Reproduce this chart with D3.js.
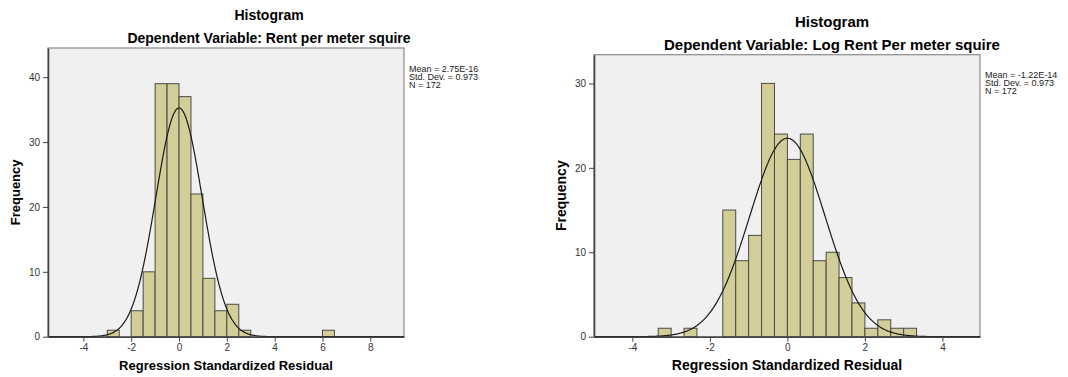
<!DOCTYPE html>
<html>
<head>
<meta charset="utf-8">
<script src="https://cdn.jsdelivr.net/npm/d3@7"></script>
<style>
  body { margin: 0; background: #fff; }
  svg { font-family: "Liberation Sans", Arial, sans-serif; }
</style>
</head>
<body>
<script>
// chart 1: Rent per meter squire, bins of 0.5
const bins1 = [-3, -2.5, -2, -1.5, -1, -0.5, 0, 0.5, 1, 1.5, 2, 2.5, 6];
const counts1 = [1, 0, 4, 10, 39, 39, 37, 22, 9, 4, 5, 1, 1];
const width1 = 0.5;
const xTicks1 = [-4, -2, 0, 2, 4, 6, 8];
const yTicks1 = [0, 10, 20, 30, 40];
const stats1 = ["Mean = 2.75E-16", "Std. Dev. = 0.973", "N = 172"];

// chart 2: Log Rent Per meter squire, bins of 1/3
const bins2 = [-10, -9, -8, -7, -6, -5, -4, -3, -2, -1, 0, 1, 2, 3, 4, 5, 6, 7, 8, 9].map(k => k / 3);
const counts2 = [1, 0, 1, 0, 0, 15, 9, 12, 30, 24, 21, 24, 9, 10, 7, 4, 1, 2, 1, 1];
const width2 = 1 / 3;
const xTicks2 = [-4, -2, 0, 2, 4];
const yTicks2 = [0, 10, 20, 30];
const stats2 = ["Mean = -1.22E-14", "Std. Dev. = 0.973", "N = 172"];

const svg = d3.select('body').append('svg')
    .attr('width', 1068)
    .attr('height', 377);

function histogram(cfg) {
    let g = svg.append('g');
    let x = d3.scaleLinear().domain(cfg.xDomain).range([cfg.left, cfg.right]);
    let y = d3.scaleLinear().domain(cfg.yDomain).range([cfg.bottom, cfg.top]);

    // plot background + frame
    g.append('rect')
        .attr('x', cfg.left).attr('y', cfg.top)
        .attr('width', cfg.right - cfg.left).attr('height', cfg.bottom - cfg.top)
        .attr('fill', '#f0f0f0')
        .attr('stroke', '#8a8a8a')
        .attr('stroke-width', 1.2);

    // bars
    g.append('g').selectAll('rect')
        .data(cfg.bins.map((b, i) => ({x0: b, n: cfg.counts[i]})).filter(d => d.n > 0))
        .join('rect')
        .attr('x', d => x(d.x0))
        .attr('y', d => y(d.n))
        .attr('width', d => x(d.x0 + cfg.binWidth) - x(d.x0))
        .attr('height', d => y(0) - y(d.n))
        .attr('fill', '#d3ce97')
        .attr('stroke', '#4a4a4a')
        .attr('stroke-width', 1);

    // normal curve from mean / sd / n
    let pts = d3.range(cfg.xDomain[0], cfg.xDomain[1], 0.02);
    let dens = v => cfg.n * cfg.binWidth / (cfg.sd * Math.sqrt(2 * Math.PI)) *
        Math.exp(-0.5 * Math.pow((v - cfg.mean) / cfg.sd, 2));
    g.append('path')
        .datum(pts)
        .attr('fill', 'none')
        .attr('stroke', '#1a1a1a')
        .attr('stroke-width', 1.2)
        .attr('d', d3.line().x(d => x(d)).y(d => y(dens(d))).curve(d3.curveBasis));

    // axes (plain hyphen minus, like the SPSS output)
    let fmt = d => String(d);
    let xAxis = g.append('g')
        .attr('transform', `translate(0,${cfg.bottom})`)
        .call(d3.axisBottom(x).tickValues(cfg.xTicks).tickFormat(fmt).tickSize(5).tickSizeOuter(0));
    let yAxis = g.append('g')
        .attr('transform', `translate(${cfg.left},0)`)
        .call(d3.axisLeft(y).tickValues(cfg.yTicks).tickFormat(fmt).tickSize(5).tickSizeOuter(0));
    [xAxis, yAxis].forEach(a => {
        a.select('.domain').attr('stroke', '#444').attr('stroke-width', 1.6);
        a.selectAll('.tick line').attr('stroke', '#444');
        a.selectAll('.tick text').attr('fill', '#333')
            .style('font-size', cfg.tickFont + 'px')
            .style('font-family', '"Liberation Sans", Arial, sans-serif');
    });
    xAxis.selectAll('.tick text').attr('dy', '0.6em');

    // titles
    g.append('text')
        .attr('x', cfg.titleX).attr('y', cfg.titleY)
        .attr('text-anchor', 'middle')
        .style('font-weight', 'bold').style('font-size', cfg.titleFont + 'px')
        .text('Histogram');
    g.append('text')
        .attr('x', cfg.titleX).attr('y', cfg.titleY + 23)
        .attr('text-anchor', 'middle')
        .style('font-weight', 'bold').style('font-size', cfg.titleFont + 'px')
        .text(cfg.subtitle);
    g.append('text')
        .attr('x', cfg.xLabelX).attr('y', 370)
        .attr('text-anchor', 'middle')
        .style('font-weight', 'bold').style('font-size', cfg.labelFont + 'px')
        .text('Regression Standardized Residual');
    g.append('text')
        .attr('transform', `translate(${cfg.yLabelX},${(cfg.top + cfg.bottom) / 2}) rotate(-90)`)
        .attr('text-anchor', 'middle')
        .style('font-weight', 'bold').style('font-size', cfg.labelFont + 'px')
        .text('Frequency');

    // stats box
    g.append('g').selectAll('text')
        .data(cfg.stats)
        .join('text')
        .attr('x', cfg.right + 5)
        .attr('y', (d, i) => cfg.statsY + i * 8)
        .style('font-size', '9px')
        .attr('fill', '#222')
        .text(d => d);
}

histogram({
    bins: bins1, counts: counts1, binWidth: width1, mean: 0, sd: 0.973, n: 172,
    xDomain: [-5.48, 9.41], yDomain: [0, 44.5],
    left: 48, right: 404, top: 48, bottom: 336.7,
    xTicks: xTicks1, yTicks: yTicks1, stats: stats1, statsY: 72,
    titleX: 269, titleY: 20, titleFont: 14, labelFont: 13, tickFont: 10,
    subtitle: 'Dependent Variable: Rent per meter squire',
    xLabelX: 226, yLabelX: 20
});

histogram({
    bins: bins2, counts: counts2, binWidth: width2, mean: 0, sd: 0.973, n: 172,
    xDomain: [-4.99, 4.97], yDomain: [0, 33.4],
    left: 594, right: 980, top: 54.7, bottom: 336.7,
    xTicks: xTicks2, yTicks: yTicks2, stats: stats2, statsY: 78,
    titleX: 832, titleY: 27, titleFont: 15, labelFont: 14, tickFont: 10,
    subtitle: 'Dependent Variable: Log Rent Per meter squire',
    xLabelX: 787, yLabelX: 566
});
</script>
</body>
</html>
